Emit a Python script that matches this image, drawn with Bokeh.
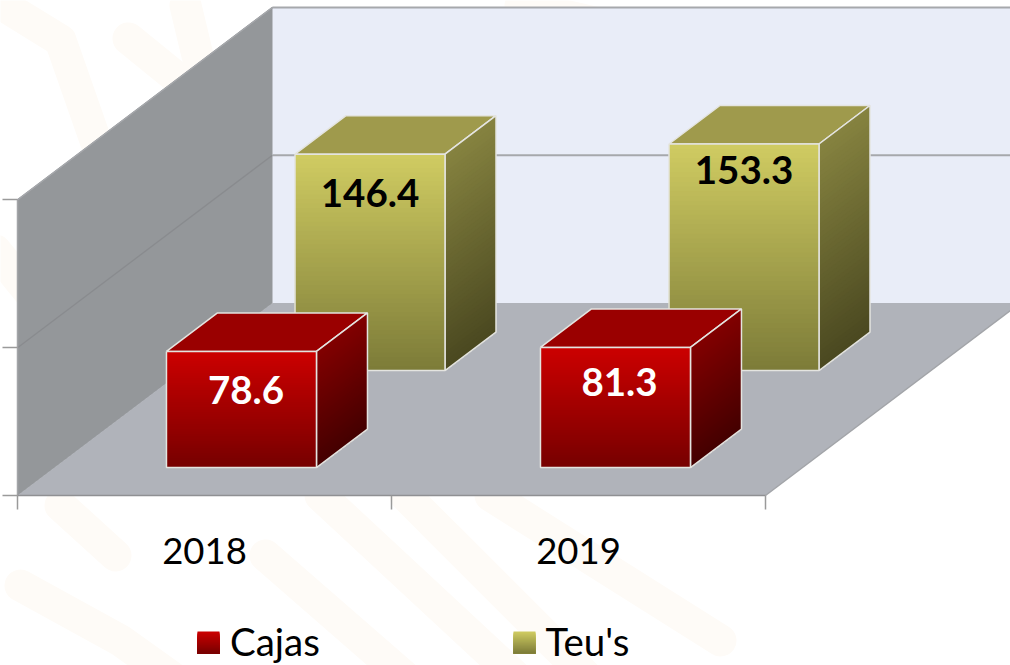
from bokeh.plotting import figure
from bokeh.models import LinearAxis, FixedTicker, Range1d
from bokeh.core.properties import value
from bokeh.embed import file_html
from bokeh.resources import INLINE

# ---- data ----
years = ["2018", "2019"]
series_names = ["Cajas", "Teu's"]
cajas = [78.6, 81.3]
teus = [146.4, 153.3]
value_ticks = [0, 100, 200]

# ---- scales / projection (style) ----
PX_CAT = 374.0      # pixels per category
PX_VAL = 1.478      # pixels per value unit
ORG_X, ORG_Y = 17.0, 495.0
DEPTH_X = 255.0 / PX_CAT
DEPTH_Y = 192.5 / PX_VAL
BAR_W = 150.0 / PX_CAT
BAR_D = 0.2
ROW_Z = {"Cajas": 0.145, "Teu's": 0.649}
LABEL_DY = {"Cajas": [39, 35], "Teu's": [39, 26]}
LABEL_DX = {"Cajas": [4.5, 4], "Teu's": [0, 0]}

def dx(px):
    return (px - ORG_X) / PX_CAT

def dy(py):
    return (ORG_Y - py) / PX_VAL

def X(x, z=0.0):
    return x + z * DEPTH_X

def Y(v, z=0.0):
    return v + z * DEPTH_Y

W, H = 1010, 665
p = figure(width=W, height=H, output_backend="svg", toolbar_location=None,
           x_range=Range1d(dx(0), dx(W)), y_range=Range1d(dy(H), dy(0)),
           min_border=0, outline_line_color=None, x_axis_type=None, y_axis_type=None)
p.grid.visible = False
p.background_fill_color = "#FFFFFF"
p.border_fill_color = "#FFFFFF"

# ---- faint watermark (decoration) ----
wm_x = [[-5, 60, 95], [128, 235], [60, 115], [20, 120, 190], [320, 530], [265, 420],
        [405, 600], [490, 720], [520, 760], [185, 215], [-5, 60]]
wm_y = [[0, 40, 140], [38, 125], [505, 555], [585, 640, 690], [495, 690], [555, 690],
        [495, 690], [495, 640], [5, 60], [5, 130], [250, 330]]
p.multi_line([[dx(a) for a in xs] for xs in wm_x], [[dy(b) for b in ys] for ys in wm_y],
             line_color="#FEFBF7", line_width=32, line_cap="round", line_join="round")

# ---- walls and floor ----
RIGHT = 2.0
p.patch([X(0, 0), X(0, 1), X(0, 1), X(0, 0)], [Y(0, 0), Y(0, 1), Y(200, 1), Y(200, 0)],
        fill_color="#94979A", line_color="#94979A", line_width=1)
p.patch([X(0, 1), X(RIGHT, 1), X(RIGHT, 1), X(0, 1)], [Y(0, 1), Y(0, 1), Y(200, 1), Y(200, 1)],
        fill_color="#E9EDF8", line_color=None)
p.patch([X(0, 0), X(RIGHT, 0), X(RIGHT, 1), X(0, 1)], [Y(0, 0), Y(0, 0), Y(0, 1), Y(0, 1)],
        fill_color="#B0B3BA", line_color=None)
p.line([X(RIGHT, 0), X(RIGHT, 1)], [Y(0, 0), Y(0, 1)], line_color="#A2A4A8", line_width=1.5)
for v in value_ticks[1:]:
    p.line([X(0, 0), X(0, 1)], [Y(v, 0), Y(v, 1)], line_color="#898B8E", line_width=1.3)
    p.line([X(0, 1), X(RIGHT, 1)], [Y(v, 1), Y(v, 1)], line_color="#A6A8AC", line_width=2)
p.line([X(0, 0), X(0, 1)], [Y(200, 0), Y(200, 1)], line_color="#A6A8AC", line_width=1.5)
p.line([X(0, 0), X(0, 0)], [Y(0, 0), Y(200, 0)], line_color="#A3A5A8", line_width=1.5)

# ---- gradient helpers ----
def hex2rgb(c):
    return [int(c[i:i + 2], 16) for i in (1, 3, 5)]

def mix(c0, c1, t):
    a, b = hex2rgb(c0), hex2rgb(c1)
    return "#%02X%02X%02X" % tuple(round(a[i] + (b[i] - a[i]) * t) for i in range(3))

def strips(xa, xb, za, zb, top, bottom, c0, c1, n=48):
    """Face from (xa, za) to (xb, zb), spanning values bottom..top, vertical gradient.
    Each strip reaches down to the base, so later ones paint over without seams."""
    xs, ys, cs = [], [], []
    for i in range(n):
        v0 = top + (bottom - top) * i / n
        xs.append([X(xa, za), X(xb, zb), X(xb, zb), X(xa, za)])
        ys.append([Y(v0, za), Y(v0, zb), Y(bottom, zb), Y(bottom, za)])
        cs.append(mix(c0, c1, (i + 0.5) / n))
    p.patches(xs, ys, fill_color=cs, line_color=None)

STYLE = {
    "Cajas": dict(f0="#CC0000", f1="#760000", top="#9A0000", s0="#820000", s1="#440000", txt="#FFFFFF"),
    "Teu's": dict(f0="#D0CC62", f1="#7C7B38", top="#9F9A4C", s0="#868340", s1="#4A4820", txt="#000000"),
}
EDGE = "#E4E4E0"

def bar(i, v, name):
    st = STYLE[name]
    z0 = ROW_Z[name]
    z1 = z0 + BAR_D
    x0 = i + 0.5 - BAR_W / 2
    x1 = x0 + BAR_W
    # top face
    p.patch([X(x0, z0), X(x1, z0), X(x1, z1), X(x0, z1)], [Y(v, z0), Y(v, z0), Y(v, z1), Y(v, z1)],
            fill_color=st["top"], line_color=EDGE, line_width=1.5)
    # side face
    strips(x1, x1, z0, z1, v, 0, st["s0"], st["s1"])
    p.line([X(x1, z0), X(x1, z1), X(x1, z1), X(x1, z0), X(x1, z0)],
           [Y(v, z0), Y(v, z1), Y(0, z1), Y(0, z0), Y(v, z0)], line_color=EDGE, line_width=1.5)
    # front face
    strips(x0, x1, z0, z0, v, 0, st["f0"], st["f1"])
    p.line([X(x0, z0), X(x1, z0), X(x1, z0), X(x0, z0), X(x0, z0)],
           [Y(v, z0), Y(v, z0), Y(0, z0), Y(0, z0), Y(v, z0)], line_color=EDGE, line_width=1.5)

for name, vals in [("Teu's", teus), ("Cajas", cajas)]:
    for i, v in enumerate(vals):
        bar(i, v, name)

# data labels
for name, vals in [("Teu's", teus), ("Cajas", cajas)]:
    for i, v in enumerate(vals):
        z0 = ROW_Z[name]
        p.text([X(i + 0.5, z0) + LABEL_DX[name][i] / PX_CAT], [Y(v, z0) - LABEL_DY[name][i] / PX_VAL],
               text=[f"{v:.1f}"],
               text_font=value("Lato"), text_font_style="bold", text_font_size="38.5px",
               text_color=STYLE[name]["txt"], text_align="center", text_baseline="middle")

# ---- axes drawn on the floor front / wall corner ----
xaxis = LinearAxis(fixed_location=0, bounds=(0, 2),
                   ticker=FixedTicker(ticks=[0.5, 1.5], minor_ticks=[0, 1, 2]),
                   major_label_overrides={0.5: years[0], 1.5: years[1]},
                   major_tick_out=0, major_tick_in=0,
                   minor_tick_out=14, minor_tick_in=0,
                   minor_tick_line_color="#9A9A9A", minor_tick_line_width=1.5,
                   axis_line_color="#8F9093", axis_line_width=1.5,
                   major_label_standoff=28,
                   major_label_text_font="Lato", major_label_text_font_size="36.5px",
                   major_label_text_color="#000000")
p.add_layout(xaxis, "below")
yaxis = LinearAxis(fixed_location=0,
                   ticker=FixedTicker(ticks=value_ticks),
                   major_label_overrides={t: "" for t in value_ticks},
                   major_tick_out=15, major_tick_in=0,
                   major_tick_line_color="#9A9A9A", major_tick_line_width=1.5,
                   axis_line_color=None, major_label_text_font_size="1px")
p.add_layout(yaxis, "left")

# ---- legend ----
LEG = {"Cajas": (197, 229.5), "Teu's": (513, 545)}
for name in series_names:
    sx, tx = LEG[name]
    st = STYLE[name]
    n = 20
    xs, ys, cs = [], [], []
    for k in range(n):
        py0 = 631 + 22 * k / n
        xs.append([dx(sx), dx(sx + 22), dx(sx + 22), dx(sx)])
        ys.append([dy(py0), dy(py0), dy(653), dy(653)])
        cs.append(mix(st["f0"], st["f1"], (k + 0.5) / n))
    p.patches(xs, ys, fill_color=cs, line_color=None)
    p.text([dx(tx)], [dy(640)], text=[name], text_font=value("Lato"), text_font_size="38.5px",
           text_color="#000000", text_align="left", text_baseline="middle")

open("out.html", "w").write(file_html(p, INLINE))
